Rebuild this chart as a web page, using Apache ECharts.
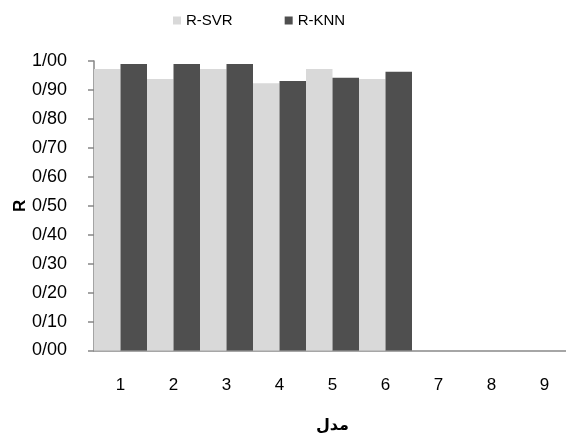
<!DOCTYPE html>
<html>
<head>
<meta charset="utf-8">
<script src="https://cdn.jsdelivr.net/npm/echarts@6/dist/echarts.min.js"></script>
<style>
  html, body { margin: 0; padding: 0; background: #ffffff; }
  #chart { width: 566px; height: 435px; }
</style>
</head>
<body>
<div id="chart"></div>
<script>
// Model numbers along the horizontal axis
var models = ['1', '2', '3', '4', '5', '6', '7', '8', '9'];
// Correlation coefficient R per model
var rSVR = [0.972, 0.938, 0.972, 0.923, 0.972, 0.938, null, null, null];
var rKNN = [0.990, 0.990, 0.990, 0.931, 0.942, 0.963, null, null, null];
var seriesNames = ['R-SVR', 'R-KNN'];

var chart = echarts.init(document.getElementById('chart'), null, { renderer: 'canvas' });

var baseFont = 'Liberation Sans';

chart.setOption({
  animation: false,
  backgroundColor: '#ffffff',
  color: ['#d9d9d9', '#4f4f4f'],
  legend: {
    data: seriesNames,
    top: 8,
    left: 168,
    itemWidth: 8,
    itemHeight: 8,
    itemGap: 52,
    icon: 'rect',
    textStyle: { fontFamily: baseFont, fontSize: 15, color: '#000000' }
  },
  grid: {
    left: 94,
    right: -5,
    top: 61,
    bottom: 84.5,
    containLabel: false,
    outerBoundsMode: 'none'
  },
  xAxis: {
    type: 'category',
    data: models,
    name: 'مدل',
    nameLocation: 'middle',
    nameGap: 67,
    nameMoveOverlap: false,
    nameTextStyle: { fontFamily: 'DejaVu Sans', fontWeight: 'bold', fontSize: 16, color: '#000000' },
    axisLine: { lineStyle: { color: '#a6a6a6', width: 2 } },
    axisTick: { show: false },
    axisLabel: { margin: 26, fontFamily: baseFont, fontSize: 17, color: '#000000' },
    splitLine: { show: false }
  },
  yAxis: {
    type: 'value',
    min: 0,
    max: 1,
    interval: 0.1,
    name: 'R',
    nameLocation: 'middle',
    nameGap: 65,
    nameRotate: 90,
    nameMoveOverlap: false,
    nameTextStyle: { fontFamily: baseFont, fontWeight: 'bold', fontSize: 17, color: '#000000' },
    axisLine: { show: true, lineStyle: { color: '#868686', width: 1.5 } },
    axisTick: { show: true, length: 6, lineStyle: { color: '#868686', width: 1.5 } },
    axisLabel: {
      margin: 27,
      fontFamily: baseFont,
      fontSize: 18,
      color: '#000000',
      formatter: function (v) { return v.toFixed(2).replace('.', '/'); }
    },
    splitLine: { show: false }
  },
  series: [
    {
      name: seriesNames[0],
      type: 'bar',
      data: rSVR,
      barGap: '0%',
      barCategoryGap: '0%',
      itemStyle: { color: '#d9d9d9' }
    },
    {
      name: seriesNames[1],
      type: 'bar',
      data: rKNN,
      barGap: '0%',
      barCategoryGap: '0%',
      itemStyle: { color: '#4f4f4f' }
    }
  ]
});
</script>
</body>
</html>
